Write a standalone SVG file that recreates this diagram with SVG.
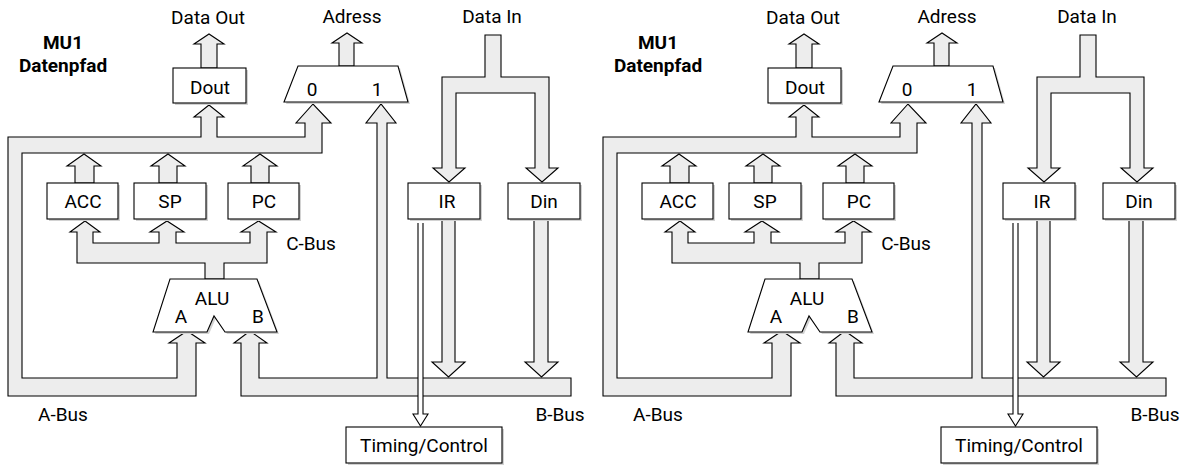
<svg xmlns="http://www.w3.org/2000/svg" width="1190" height="466" viewBox="0 0 1190 466">
<style>
.bus{fill:#ededed;stroke:#000;stroke-width:1.1;stroke-linejoin:miter}
.hol{fill:#fff;stroke:#000;stroke-width:1.1}
.box{fill:#fff;stroke:#000;stroke-width:1.1}
.sh{fill:#d2d2d2}
.t{font-family:Roboto,"Liberation Sans",sans-serif;font-size:19px;fill:#000;text-anchor:middle}
.tb{font-weight:bold}
</style>
<rect width="1190" height="466" fill="#fff"/>
<g id="left">
 <g id="connectors">
  <path id="a-bus" class="bus" d="M8 137 L201 137 L201 117 L194 117 L209 105 L224 117 L217 117 L217 137 L305 137 L305 123 L296 123 L313 104 L331 123 L322 123 L322 153 L22 153 L22 378 L177 378 L177 343 L169 343 L187 331 L205 343 L196 343 L196 396 L8 396 Z"/>
  <path id="b-bus" class="bus" d="M241 396 L241 343 L234 343 L250 331 L267 343 L259 343 L259 378 L377 378 L377 123 L366 123 L381 104 L396 123 L387 123 L387 378 L571 378 L571 396 Z"/>
  <path id="c-bus" class="bus" d="M205 279 L205 263 L77 263 L77 232 L70 232 L85 221 L100 232 L93 232 L93 243 L159 243 L159 232 L150 232 L167 221 L184 232 L176 232 L176 243 L250 243 L250 232 L241 232 L258.5 221 L276 232 L267 232 L267 263 L224 263 L224 279 Z"/>
  <path id="data-in-bus" class="bus" d="M485 35 L501 35 L501 77 L549 77 L549 168 L558 168 L542 182 L526 168 L535 168 L535 93 L456 93 L456 168 L465 168 L449 182 L433 168 L442 168 L442 77 L485 77 Z"/>
  <path id="dout-out" class="bus" d="M201 68 L201 44 L194 44 L209 34 L224 44 L217 44 L217 68 Z"/>
  <path id="adress-out" class="bus" d="M339 66 L339 43 L332 43 L347 33 L362 43 L354 43 L354 66 Z"/>
  <path id="acc-out" class="bus" d="M75 183 L75 166 L67 166 L84 154 L101 166 L94 166 L94 183 Z"/>
  <path id="sp-out" class="bus" d="M159 183 L159 166 L151 166 L168 154 L185 166 L177 166 L177 183 Z"/>
  <path id="pc-out" class="bus" d="M251 183 L251 166 L243 166 L260 154 L277 166 L269 166 L269 183 Z"/>
  <path id="ir-out" class="bus" d="M442 219 L442 362 L432 362 L448.5 377 L465 362 L455 362 L455 219 Z"/>
  <path id="din-out" class="bus" d="M534 219 L534 362 L525 362 L541.5 377 L558 362 L548 362 L548 219 Z"/>
  <path id="ctrl" class="hol" d="M418 223 L418 414 L413 414 L420.5 426 L428 414 L423 414 L423 223"/>
 </g>
 <g id="dout"><rect class="sh" x="175" y="70" width="73" height="35"/><rect class="box" x="173" y="68" width="73" height="35"/><text class="t" x="210" y="94">Dout</text></g>
 <g id="mux"><polygon class="sh" points="300,68 400,68 410,104 286,104"/><polygon class="box" points="298,66 398,66 408,102 284,102"/><text class="t" x="312" y="96">0</text><text class="t" x="377" y="96">1</text></g>
 <g id="acc"><rect class="sh" x="49" y="185" width="71" height="36"/><rect class="box" x="47" y="183" width="71" height="36"/><text class="t" x="83" y="208">ACC</text></g>
 <g id="sp"><rect class="sh" x="136" y="185" width="72" height="36"/><rect class="box" x="134" y="183" width="72" height="36"/><text class="t" x="170" y="208">SP</text></g>
 <g id="pc"><rect class="sh" x="230" y="185" width="71" height="36"/><rect class="box" x="228" y="183" width="71" height="36"/><text class="t" x="264" y="208">PC</text></g>
 <g id="ir"><rect class="sh" x="410" y="185" width="72" height="36"/><rect class="box" x="408" y="183" width="72" height="36"/><text class="t" x="447" y="208">IR</text></g>
 <g id="din"><rect class="sh" x="510" y="185" width="72" height="36"/><rect class="box" x="508" y="183" width="72" height="36"/><text class="t" x="544" y="208">Din</text></g>
 <g id="alu"><polygon class="sh" points="172,281 259,281 279,334 227,334 216,318 209,334 155,334"/><polygon class="box" points="170,279 257,279 277,332 225,332 214,316 207,332 153,332"/><text class="t" x="212" y="305">ALU</text><text class="t" x="181" y="323">A</text><text class="t" x="258" y="323">B</text></g>
 <g id="timing"><rect class="sh" x="348" y="429" width="156" height="36"/><rect class="box" x="346" y="427" width="156" height="36"/><text class="t" x="424" y="452">Timing/Control</text></g>
 <g id="labels">
  <text class="t tb" x="63" y="49">MU1</text><text class="t tb" x="63" y="72">Datenpfad</text>
  <text class="t" x="208" y="24">Data Out</text>
  <text class="t" x="352" y="23">Adress</text>
  <text class="t" x="492" y="23">Data In</text>
  <text class="t" x="311" y="250">C-Bus</text>
  <text class="t" x="63" y="421">A-Bus</text>
  <text class="t" x="560" y="421">B-Bus</text>
 </g>
</g>
<g id="right" transform="translate(595,0)">
 <g id="r-connectors">
  <path id="r-a-bus" class="bus" d="M8 137 L201 137 L201 117 L194 117 L209 105 L224 117 L217 117 L217 137 L305 137 L305 123 L296 123 L313 104 L331 123 L322 123 L322 153 L22 153 L22 378 L177 378 L177 343 L169 343 L187 331 L205 343 L196 343 L196 396 L8 396 Z"/>
  <path id="r-b-bus" class="bus" d="M241 396 L241 343 L234 343 L250 331 L267 343 L259 343 L259 378 L377 378 L377 123 L366 123 L381 104 L396 123 L387 123 L387 378 L571 378 L571 396 Z"/>
  <path id="r-c-bus" class="bus" d="M205 279 L205 263 L77 263 L77 232 L70 232 L85 221 L100 232 L93 232 L93 243 L159 243 L159 232 L150 232 L167 221 L184 232 L176 232 L176 243 L250 243 L250 232 L241 232 L258.5 221 L276 232 L267 232 L267 263 L224 263 L224 279 Z"/>
  <path id="r-data-in-bus" class="bus" d="M485 35 L501 35 L501 77 L549 77 L549 168 L558 168 L542 182 L526 168 L535 168 L535 93 L456 93 L456 168 L465 168 L449 182 L433 168 L442 168 L442 77 L485 77 Z"/>
  <path id="r-dout-out" class="bus" d="M201 68 L201 44 L194 44 L209 34 L224 44 L217 44 L217 68 Z"/>
  <path id="r-adress-out" class="bus" d="M339 66 L339 43 L332 43 L347 33 L362 43 L354 43 L354 66 Z"/>
  <path id="r-acc-out" class="bus" d="M75 183 L75 166 L67 166 L84 154 L101 166 L94 166 L94 183 Z"/>
  <path id="r-sp-out" class="bus" d="M159 183 L159 166 L151 166 L168 154 L185 166 L177 166 L177 183 Z"/>
  <path id="r-pc-out" class="bus" d="M251 183 L251 166 L243 166 L260 154 L277 166 L269 166 L269 183 Z"/>
  <path id="r-ir-out" class="bus" d="M442 219 L442 362 L432 362 L448.5 377 L465 362 L455 362 L455 219 Z"/>
  <path id="r-din-out" class="bus" d="M534 219 L534 362 L525 362 L541.5 377 L558 362 L548 362 L548 219 Z"/>
  <path id="r-ctrl" class="hol" d="M418 223 L418 414 L413 414 L420.5 426 L428 414 L423 414 L423 223"/>
 </g>
 <g id="r-dout"><rect class="sh" x="175" y="70" width="73" height="35"/><rect class="box" x="173" y="68" width="73" height="35"/><text class="t" x="210" y="94">Dout</text></g>
 <g id="r-mux"><polygon class="sh" points="300,68 400,68 410,104 286,104"/><polygon class="box" points="298,66 398,66 408,102 284,102"/><text class="t" x="312" y="96">0</text><text class="t" x="377" y="96">1</text></g>
 <g id="r-acc"><rect class="sh" x="49" y="185" width="71" height="36"/><rect class="box" x="47" y="183" width="71" height="36"/><text class="t" x="83" y="208">ACC</text></g>
 <g id="r-sp"><rect class="sh" x="136" y="185" width="72" height="36"/><rect class="box" x="134" y="183" width="72" height="36"/><text class="t" x="170" y="208">SP</text></g>
 <g id="r-pc"><rect class="sh" x="230" y="185" width="71" height="36"/><rect class="box" x="228" y="183" width="71" height="36"/><text class="t" x="264" y="208">PC</text></g>
 <g id="r-ir"><rect class="sh" x="410" y="185" width="72" height="36"/><rect class="box" x="408" y="183" width="72" height="36"/><text class="t" x="447" y="208">IR</text></g>
 <g id="r-din"><rect class="sh" x="510" y="185" width="72" height="36"/><rect class="box" x="508" y="183" width="72" height="36"/><text class="t" x="544" y="208">Din</text></g>
 <g id="r-alu"><polygon class="sh" points="172,281 259,281 279,334 227,334 216,318 209,334 155,334"/><polygon class="box" points="170,279 257,279 277,332 225,332 214,316 207,332 153,332"/><text class="t" x="212" y="305">ALU</text><text class="t" x="181" y="323">A</text><text class="t" x="258" y="323">B</text></g>
 <g id="r-timing"><rect class="sh" x="348" y="429" width="156" height="36"/><rect class="box" x="346" y="427" width="156" height="36"/><text class="t" x="424" y="452">Timing/Control</text></g>
 <g id="r-labels">
  <text class="t tb" x="63" y="49">MU1</text><text class="t tb" x="63" y="72">Datenpfad</text>
  <text class="t" x="208" y="24">Data Out</text>
  <text class="t" x="352" y="23">Adress</text>
  <text class="t" x="492" y="23">Data In</text>
  <text class="t" x="311" y="250">C-Bus</text>
  <text class="t" x="63" y="421">A-Bus</text>
  <text class="t" x="560" y="421">B-Bus</text>
 </g>
</g>
</svg>
